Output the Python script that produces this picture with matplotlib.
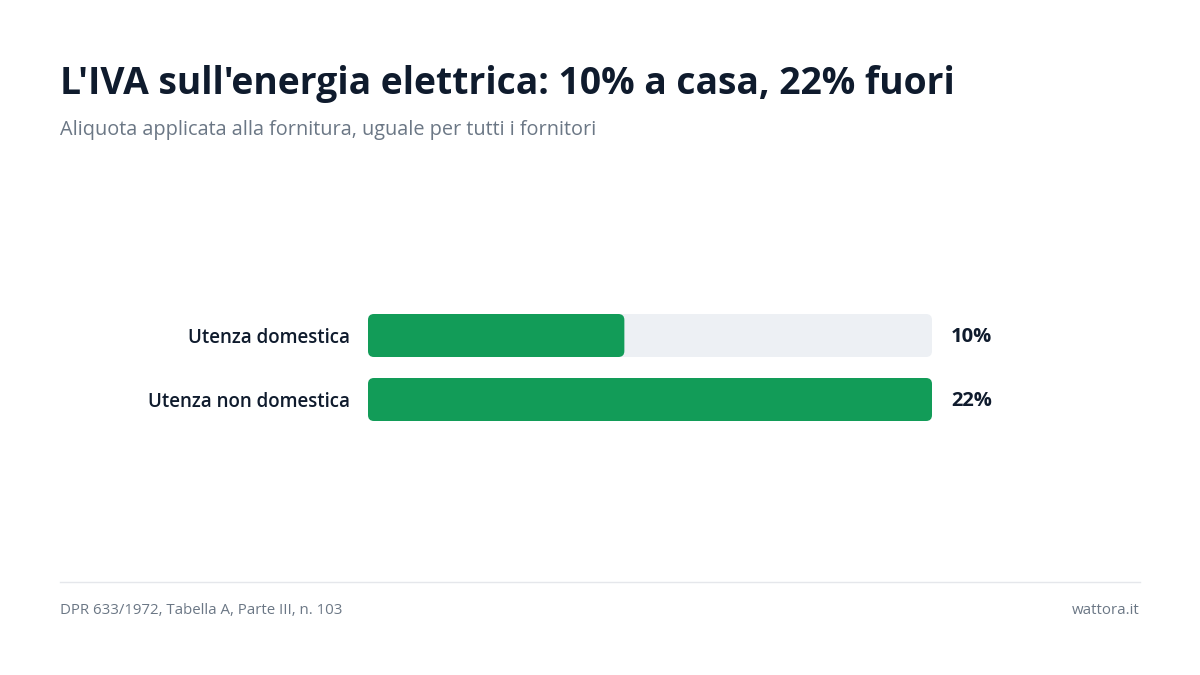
import matplotlib
matplotlib.use("Agg")
import matplotlib.pyplot as plt
from matplotlib.patches import FancyBboxPatch
from matplotlib.lines import Line2D

plt.rcParams['font.family'] = ['Open Sans', 'DejaVu Sans']

categories = ['Utenza domestica', 'Utenza non domestica']
rates = [10, 22]
value_labels = ['10%', '22%']
scale_max = 22

title = "L'IVA sull'energia elettrica: 10% a casa, 22% fuori"
subtitle = "Aliquota applicata alla fornitura, uguale per tutti i fornitori"
source = "DPR 633/1972, Tabella A, Parte III, n. 103"
brand = "wattora.it"

GREEN = '#129c58'
TRACK = '#edf0f4'
DARK = '#0f1b2d'
GREY = '#6b7785'

W, H = 1200, 675
fig = plt.figure(figsize=(W / 100, H / 100), dpi=100)
fig.patch.set_facecolor('white')

# axes in pixel box: x 368..932, rows centred at 335.5 and 399.5
x0, x1 = 368, 932
yc0, step = 335.5, 64
top = yc0 - step / 2
bot = top + step * len(categories)
ax = fig.add_axes([x0 / W, 1 - bot / H, (x1 - x0) / W, (bot - top) / H])
ax.set_xlim(0, scale_max)
ax.set_ylim(len(categories) - 0.5, -0.5)
for s in ax.spines.values():
    s.set_visible(False)
ax.set_xticks([])
ax.set_yticks(range(len(categories)))
ax.set_yticklabels(categories, fontsize=13.5, fontweight='semibold', color=DARK)
ax.tick_params(axis='y', length=0, pad=18 * 0.72)
for t in ax.get_yticklabels():
    t.set_y(t.get_position()[1])

bar_h = 43 / step
radius_px = 6
px_x = (x1 - x0) / scale_max
r_x = radius_px / px_x
aspect = (radius_px / step) / r_x

def rbar(y, w, color):
    p = FancyBboxPatch((0, y - bar_h / 2), w, bar_h,
                       boxstyle=f"round,pad=0,rounding_size={r_x}",
                       mutation_aspect=aspect, fc=color, ec='none')
    ax.add_patch(p)

for i, (v, lab) in enumerate(zip(rates, value_labels)):
    rbar(i, scale_max, TRACK)
    rbar(i, v, GREEN)
    ax.annotate(lab, xy=(scale_max, i), xytext=(19 * 0.72, -1),
                textcoords='offset points', ha='left', va='center',
                fontsize=14.5, fontweight='bold', color=DARK)

fig.text(60 / W, 1 - 94 / H, title, fontsize=26.8, fontweight='bold',
         color=DARK, va='baseline', ha='left')
fig.text(60 / W, 1 - 135 / H, subtitle, fontsize=14.3, color=GREY,
         va='baseline', ha='left')

fig.add_artist(Line2D([60 / W, 1140 / W], [1 - 582 / H, 1 - 582 / H],
                      color='#e5e7eb', lw=1, transform=fig.transFigure))
fig.text(60 / W, 1 - 610 / H, source, fontsize=10.8, color=GREY,
         va='center', ha='left')
fig.text(1140 / W, 1 - 610 / H, brand, fontsize=10.8, color=GREY,
         va='center', ha='right')

fig.savefig('out.png', dpi=100, facecolor='white')
